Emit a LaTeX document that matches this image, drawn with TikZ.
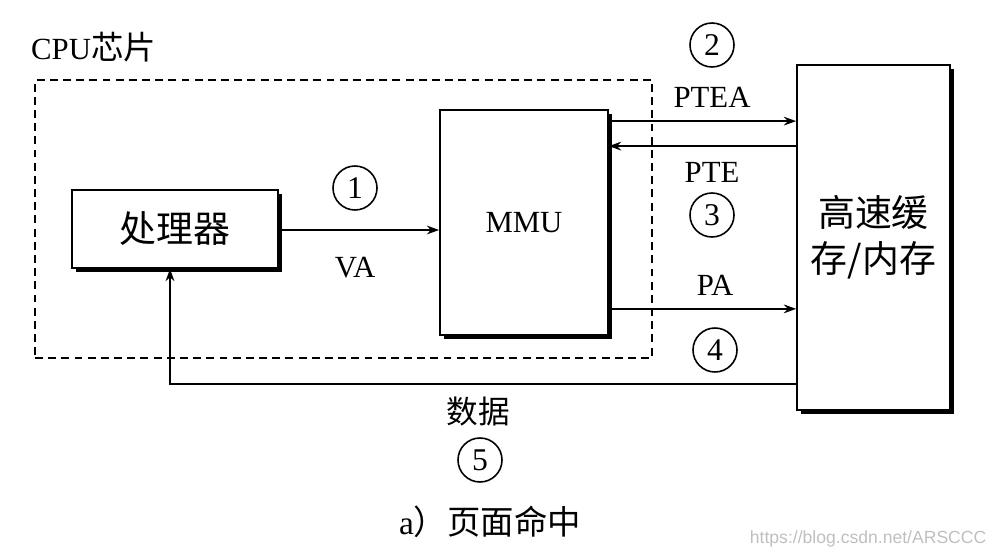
\documentclass[tikz,border=0pt]{standalone}
\usepackage{fontspec}
\setmainfont{Liberation Serif}
\newfontfamily\cjk{Noto Sans CJK SC}
\newfontfamily\wmfont{Liberation Sans}
\usetikzlibrary{arrows, arrows.meta, positioning, calc, shadows}

\begin{document}
\begin{tikzpicture}[
    box/.style={rectangle, draw, line width=1pt, fill=white, align=center,
        drop shadow={shadow xshift=2.4pt, shadow yshift=-2.4pt, fill=black, opacity=1}},
    numcirc/.style={circle, draw, line width=0.9pt, minimum size=0.88cm, inner sep=0pt, font=\fontsize{18}{18}\selectfont},
    lbl/.style={font=\fontsize{17.5}{19}\selectfont},
    arrow/.style={-{Stealth[length=7pt, width=5pt]}, line width=1pt}
]
\useasboundingbox (0,0) rectangle (19.9,11.14);

% CPU chip
\node[draw, dashed, line width=0.9pt, dash pattern=on 4.5pt off 3pt, minimum width=12.34cm, minimum height=5.56cm] (chip) at (6.87,6.76) {};
\node[lbl, anchor=west] (chiplbl) at (0.5,10.2) {CPU{\cjk\fontsize{18.5}{19}\selectfont 芯片}};

% Boxes
\node[box, minimum width=4.12cm, minimum height=1.56cm, font=\cjk\fontsize{21}{22}\selectfont] (proc) at (3.5,6.56) {处理器};
\node[box, minimum width=3.36cm, minimum height=4.5cm, lbl] (mmu) at (10.48,6.69) {MMU};
\node[box, minimum width=3.06cm, minimum height=6.9cm, font=\cjk\fontsize{21}{26}\selectfont] (cache) at (17.47,6.39) {高速缓\\存/内存};

% Arrows
\draw[arrow] (proc.east |- 0,6.54) -- (mmu.west |- 0,6.54);

\coordinate (ptea) at ([yshift=-0.24cm]mmu.north east);
\coordinate (pte) at ([yshift=-0.74cm]mmu.north east);
\coordinate (pa) at ([yshift=0.54cm]mmu.south east);
\coordinate (data) at ([yshift=0.54cm]cache.south west);
\draw[arrow] (ptea) -- (ptea -| cache.west);
\draw[arrow] (pte -| cache.west) -- (pte);
\draw[arrow] (pa) -- (pa -| cache.west);
\draw[arrow] (data) -| ([xshift=-0.1cm]proc.south);

% Labels
\node[numcirc] (n1) at (7.1,7.38) {1};
\node[lbl] (va) at (7.1,5.78) {VA};
\node[numcirc] (n2) at (14.24,10.24) {2};
\node[lbl] (ptealbl) at (14.24,9.2) {PTEA};
\node[lbl] (ptelbl) at (14.24,7.7) {PTE};
\node[numcirc] (n3) at (14.24,6.84) {3};
\node[lbl] (palbl) at (14.3,5.44) {PA};
\node[numcirc] (n4) at (14.3,4.14) {4};
\node[font=\cjk\fontsize{18}{19}\selectfont] (datalbl) at (9.56,2.9) {数据};
\node[numcirc] (n5) at (9.6,1.94) {5};

% Caption
\node[font=\fontsize{19}{20}\selectfont] (cap) at (9.8,0.7) {a{\cjk ）页面命中}};
\node[anchor=east, text=black!25, font=\wmfont\fontsize{10}{12}\selectfont] (wm) at (19.85,0.36) {https://blog.csdn.net/ARSCCC};

\end{tikzpicture}
\end{document}
